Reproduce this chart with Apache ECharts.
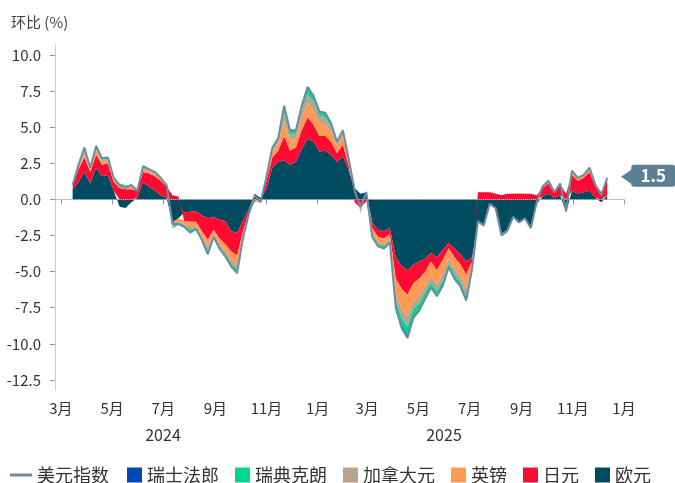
<!DOCTYPE html>
<html>
<head>
<meta charset="utf-8">
<title>美元指数分解</title>
<script src="https://cdn.jsdelivr.net/npm/echarts@6/dist/echarts.min.js"></script>
<style>
  html, body { margin: 0; padding: 0; background: #fff; }
  #chart { width: 675px; height: 483px; }
</style>
</head>
<body>
<div id="chart"></div>
<script>
// 周度数据, 起始 2024-03-15, 每 7 天一个点
const startDate = [2024, 2, 15]

// 美元指数 环比 (%)
const dxy = [
  1.0, 2.4, 3.6, 2.2, 3.7, 2.85, 2.9, 1.5, 1.0, 0.8,
  1.0, 0.6, 2.3, 2.1, 1.9, 1.5, 1.0, -1.7, -1.7, -1.9,
  -2.3, -2.05, -2.8, -3.8, -2.6, -3.4, -3.95, -4.65, -5.1, -2.7,
  -1.0, 0.3, -0.2, 1.6, 3.6, 4.25, 6.5, 4.8, 4.8, 6.5,
  7.8, 7.2, 6.1, 6.0, 5.3, 4.0, 4.8, 2.8, 0.6, -0.5,
  0.5, -2.6, -3.25, -3.4, -3.0, -7.5, -8.9, -9.6, -8.2, -7.7,
  -6.9, -6.1, -6.7, -6.0, -4.7, -5.5, -6.0, -7.0, -4.8, -1.5,
  -1.8, -0.3, -0.6, -2.5, -2.2, -1.2, -1.6, -1.3, -2.0, -0.2,
  0.9, 1.3, 0.5, 1.1, -0.8, 2.0, 1.5, 1.7, 2.2, 1.0,
  0.3, 1.5
]
// 欧元
const eur = [
  0.7, 1.2, 1.9, 1.1, 2.2, 1.6, 1.7, 0.6, -0.5, -0.6,
  -0.2, 0.1, 1.2, 0.9, 0.6, 0.3, 0.1, -1.6, -1.3, -0.9,
  -0.85, -0.8, -1.1, -1.3, -1.2, -1.4, -1.5, -2.2, -2.3, -1.5,
  -0.7, 0.4, 0.1, 0.7, 2.2, 2.6, 2.7, 2.4, 2.6, 3.5,
  4.2, 4.0, 3.3, 3.4, 3.1, 2.6, 3.0, 2.0, 0.8, 0.4,
  0.5, -1.6, -2.1, -2.2, -2.0, -4.0, -4.6, -4.9, -4.5, -4.3,
  -4.1, -3.7, -4.0, -3.5, -3.0, -3.4, -3.8, -4.3, -4.0, -1.5,
  -1.8, -0.4, -0.6, -2.4, -2.1, -1.2, -1.6, -1.3, -2.0, -0.3,
  0.2, 0.4, 0.1, 0.3, -0.9, 0.6, 0.4, 0.5, 0.6, 0.1,
  -0.2, 0.3
]
// 日元
const jpy = [
  0.2, 0.9, 1.0, 0.8, 0.9, 0.8, 0.8, 0.6, 0.8, 0.7,
  0.7, 0.5, 0.7, 0.9, 1.0, 1.0, 0.8, 0.3, 0.2, -0.6,
  -0.7, -0.75, -1.1, -1.5, -0.9, -1.3, -1.6, -1.4, -1.6, -0.7,
  -0.2, -0.1, 0, 0.6, 0.7, 0.8, 1.7, 1.0, 1.0, 1.3,
  1.5, 1.2, 1.1, 1.0, 0.9, 0.6, 0.8, 0.3, -0.2, -0.6,
  -0.1, -0.4, -0.5, -0.5, -0.4, -1.5, -1.6, -1.7, -1.3, -1.2,
  -0.9, -0.6, -0.9, -0.7, -0.4, -0.6, -0.7, -0.9, -0.3, 0.5,
  0.5, 0.5, 0.4, 0.3, 0.4, 0.4, 0.4, 0.4, 0.4, 0.3,
  0.6, 0.7, 0.35, 0.7, 0.4, 1.1, 0.9, 1.0, 1.3, 0.8,
  0.5, 1.0
]
// 英镑
const gbp = [
  0.05, 0.15, 0.3, 0.15, 0.3, 0.2, 0.2, 0.15, 0.15, 0.15,
  0.15, 0.05, 0.2, 0.15, 0.15, 0.1, 0.05, -0.2, -0.2, -0.2,
  -0.35, -0.25, -0.3, -0.5, -0.3, -0.4, -0.5, -0.6, -0.7, -0.3,
  -0.1, -0.1, -0.1, 0.2, 0.4, 0.5, 1.0, 0.7, 0.6, 0.9,
  1.0, 1.0, 0.9, 0.8, 0.7, 0.5, 0.6, 0.3, 0.1, -0.2,
  0.05, -0.3, -0.35, -0.4, -0.35, -1.0, -1.4, -1.5, -1.3, -1.2,
  -1.0, -1.0, -1.0, -1.0, -0.7, -0.8, -0.8, -1.0, -0.3, -0.1,
  -0.1, 0.05, 0, -0.1, -0.1, 0, 0.05, 0, 0, 0,
  0.1, 0.15, 0.05, 0.1, 0, 0.2, 0.15, 0.15, 0.2, 0.1,
  0.05, 0.15
]
// 加拿大元
const cad = [
  0.05, 0.1, 0.2, 0.1, 0.2, 0.15, 0.1, 0.1, 0.1, 0.1,
  0.1, 0.05, 0.1, 0.1, 0.1, 0.05, 0.05, -0.1, -0.1, -0.1,
  -0.2, -0.15, -0.15, -0.25, -0.15, -0.2, -0.2, -0.25, -0.25, -0.1,
  -0.05, 0, -0.05, 0.1, 0.2, 0.25, 0.6, 0.4, 0.35, 0.5,
  0.6, 0.6, 0.5, 0.5, 0.35, 0.2, 0.25, 0.15, 0.1, -0.1,
  0.05, -0.15, -0.15, -0.15, -0.15, -0.5, -0.6, -0.7, -0.5, -0.5,
  -0.45, -0.45, -0.45, -0.45, -0.35, -0.4, -0.4, -0.45, -0.15, 0,
  0, 0, 0, -0.05, 0, 0, 0, 0, 0, 0,
  0, 0.05, 0, 0, 0, 0.1, 0.05, 0.05, 0.05, 0,
  0, 0.05
]
// 瑞典克朗
const sek = [
  0.03, 0.1, 0.15, 0.05, 0.1, 0.1, 0.1, 0.05, 0.05, 0.05,
  0.05, 0, 0.1, 0.05, 0.05, 0.05, 0, -0.1, -0.1, -0.1,
  -0.15, -0.1, -0.1, -0.2, -0.05, -0.1, -0.15, -0.15, -0.2, -0.1,
  0, 0, 0, 0, 0.1, 0.1, 0.4, 0.25, 0.2, 0.25,
  0.4, 0.3, 0.25, 0.25, 0.2, 0.1, 0.15, 0.05, 0, -0.05,
  0, -0.1, -0.1, -0.1, -0.1, -0.35, -0.5, -0.6, -0.45, -0.4,
  -0.35, -0.3, -0.3, -0.3, -0.2, -0.25, -0.25, -0.3, -0.05, 0,
  0, 0, 0, 0, 0, 0, 0, 0, 0, 0,
  0, 0, 0, 0, 0, 0, 0, 0, 0, 0,
  0, 0
]
// 瑞士法郎
const chf = [
  0, 0.02, 0.05, 0, 0.05, 0, 0, 0, 0, 0,
  0, 0, 0, 0, 0, 0, 0, 0, -0.05, 0,
  -0.05, 0, -0.05, -0.05, 0, 0, 0, -0.05, -0.05, 0,
  0, 0, 0, 0, 0, 0, 0.1, 0.05, 0.05, 0.05,
  0.1, 0.1, 0.05, 0.05, 0.05, 0, 0, 0, 0, 0,
  0, -0.05, -0.05, -0.05, 0, -0.15, -0.2, -0.2, -0.15, -0.1,
  -0.1, -0.05, -0.05, -0.05, -0.05, -0.05, -0.05, -0.05, 0, 0,
  0, 0, 0, 0, 0, 0, 0, 0, 0, 0,
  0, 0, 0, 0, 0, 0, 0, 0, 0, 0,
  0, 0
]

// 坐标轴刻度
const yTicks = [-12.5, -10, -7.5, -5, -2.5, 0, 2.5, 5, 7.5, 10]
const xTickMonths = [
  [2024, 3], [2024, 5], [2024, 7], [2024, 9], [2024, 11],
  [2025, 1], [2025, 3], [2025, 5], [2025, 7], [2025, 9], [2025, 11],
  [2026, 1]
]
const yearLabels = ['2024', '2025']

const colors = {
  dxy: '#6d8ca1',
  chf: '#0047bb',
  sek: '#00d690',
  cad: '#b9a38f',
  gbp: '#ff9a52',
  jpy: '#ff0a33',
  eur: '#004b5f',
  tag: '#5b7f95'
}
const font = '"Noto Sans CJK SC", "Noto Sans", sans-serif'

const dates = dxy.map((_, i) => new Date(startDate[0], startDate[1], startDate[2] + 7 * i).getTime())
const xTicks = xTickMonths.map(m => new Date(m[0], m[1] - 1, 1).getTime())
// 数值放第 0 维, 日期放第 1 维: 堆叠取第一个数值维, 这样叠的是 y
const pair = arr => arr.map((v, i) => [v, dates[i]])
const last = dxy.length - 1

// 堆叠面积, 从零轴往外: 欧元, 日元, 英镑, 加拿大元, 瑞典克朗, 瑞士法郎
const areaSeries = [
  ['欧元', eur, colors.eur],
  ['日元', jpy, colors.jpy],
  ['英镑', gbp, colors.gbp],
  ['加拿大元', cad, colors.cad],
  ['瑞典克朗', sek, colors.sek],
  ['瑞士法郎', chf, colors.chf]
].map(([name, arr, color]) => ({
  name: name,
  type: 'line',
  stack: 'fx',
  encode: { x: 1, y: 0 },
  data: pair(arr),
  symbol: 'none',
  lineStyle: { width: 0 },
  itemStyle: { color: color },
  areaStyle: { color: color, opacity: 1 },
  emphasis: { disabled: true },
  z: 2
}))

const chart = echarts.init(document.getElementById('chart'))

const option = {
  animation: false,
  backgroundColor: '#fff',
  textStyle: { fontFamily: font },
  title: {
    text: '环比 (%)',
    left: 6,
    top: 10,
    textStyle: { fontSize: 15, fontWeight: 'normal', color: '#444', fontFamily: font }
  },
  grid: { left: 55, right: 51, top: 45, bottom: 93 },
  legend: [
    {
      left: 5,
      top: 461,
      selectedMode: false,
      itemWidth: 22,
      itemHeight: 3,
      data: [{ name: '美元指数', icon: 'path://M0,0H22V3H0Z' }],
      textStyle: { fontSize: 18, color: '#333', fontFamily: font }
    },
    {
      left: 122,
      top: 461,
      selectedMode: false,
      icon: 'rect',
      itemWidth: 15,
      itemHeight: 15,
      itemGap: 16,
      data: ['瑞士法郎', '瑞典克朗', '加拿大元', '英镑', '日元', '欧元'],
      textStyle: { fontSize: 18, color: '#333', fontFamily: font }
    }
  ],
  // 时间用毫秒数放在数值轴上, 方便自定义刻度
  xAxis: {
    type: 'value',
    min: new Date(2024, 1, 23).getTime(),
    max: new Date(2026, 0, 1).getTime(),
    axisLine: { lineStyle: { color: '#cfcfcf' } },
    axisTick: { show: true, customValues: xTicks, length: 5, lineStyle: { color: '#999' } },
    axisLabel: {
      customValues: xTicks,
      formatter: v => (new Date(v).getMonth() + 1) + '月',
      color: '#333',
      fontSize: 15,
      margin: 11,
      hideOverlap: false
    },
    splitLine: { show: false }
  },
  yAxis: {
    type: 'value',
    min: -13.2,
    max: 10.7,
    axisLine: { show: true, lineStyle: { color: '#cfcfcf' } },
    axisTick: { show: true, customValues: yTicks, length: 5, lineStyle: { color: '#999' } },
    axisLabel: {
      customValues: yTicks,
      formatter: v => Number(v).toFixed(1),
      color: '#333',
      fontSize: 15,
      margin: 14
    },
    splitLine: { show: false }
  },
  graphic: [
    {
      type: 'text', x: 163, y: 435,
      style: { text: yearLabels[0], fontSize: 16, fontFamily: font, fill: '#333', align: 'center', verticalAlign: 'middle' }
    },
    {
      type: 'text', x: 444, y: 435,
      style: { text: yearLabels[1], fontSize: 16, fontFamily: font, fill: '#333', align: 'center', verticalAlign: 'middle' }
    }
  ],
  series: areaSeries.concat([
    {
      name: '美元指数',
      type: 'line',
      encode: { x: 1, y: 0 },
      data: pair(dxy),
      symbol: 'none',
      lineStyle: { color: colors.dxy, width: 2 },
      itemStyle: { color: colors.dxy },
      emphasis: { disabled: true },
      z: 5,
      markLine: {
        silent: true,
        symbol: 'none',
        label: { show: false },
        lineStyle: { type: 'dotted', color: '#b5b5b5', width: 1 },
        data: [{ yAxis: 0 }]
      },
      markPoint: {
        silent: true,
        symbol: 'path://M0,12 L10,5 L10,3 Q10,0 13,0 L51,0 Q54,0 54,3 L54,19 Q54,22 51,22 L13,22 Q10,22 10,19 Z',
        symbolSize: [54, 22],
        symbolOffset: [41, -2],
        itemStyle: { color: colors.tag },
        label: {
          show: true,
          formatter: p => Number(p.value).toFixed(1),
          color: '#fff',
          fontSize: 17,
          fontWeight: 'bold',
          offset: [5, 0]
        },
        data: [{ coord: [dates[last], dxy[last]], value: dxy[last] }]
      }
    }
  ])
}

chart.setOption(option)
window.onresize = function () {
  chart.resize()
}
</script>
</body>
</html>
